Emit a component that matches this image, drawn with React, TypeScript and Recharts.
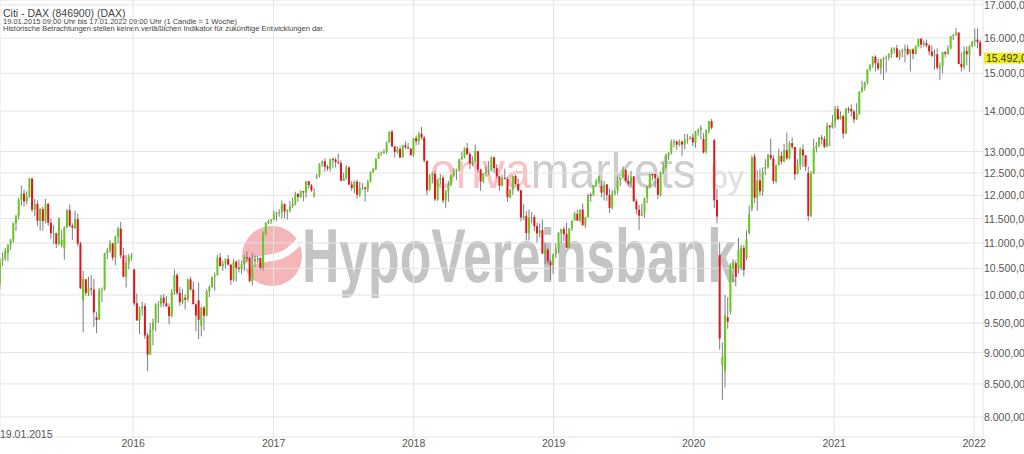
import React from "react";
import { Bar, CartesianGrid, ComposedChart, ReferenceLine, XAxis, YAxis } from "recharts";

// one candle per week: [open, high, low, close], first week starts 19.01.2015
type Ohlc = [number, number, number, number];

const y2015: Ohlc[] = [
  [10200, 10700, 10100, 10649], [10650, 10810, 10550, 10694], [10690, 10900, 10650, 10846], [10800, 10970, 10640, 10963],
  [10960, 11080, 10860, 11051], [11050, 11420, 11000, 11402], [11400, 11580, 11240, 11551], [11550, 11950, 11480, 11901],
  [11900, 12220, 11780, 12040], [12040, 12130, 11750, 11869], [11870, 12090, 11800, 11968], [11970, 12390, 11950, 12375],
  [12370, 12390, 11640, 11689], [11690, 11920, 11550, 11811], [11810, 11890, 11350, 11454], [11450, 11720, 11250, 11709],
  [11700, 11750, 11250, 11447], [11450, 11920, 11400, 11815], [11810, 11840, 11350, 11413], [11410, 11500, 11080, 11197],
  [11190, 11360, 10980, 11196], [11190, 11210, 10900, 10978], [10980, 11530, 10950, 11492], [10950, 11260, 10910, 11058],
  [10890, 11340, 10670, 11316], [11320, 11700, 11300, 11674], [11680, 11800, 11330, 11347], [11350, 11400, 11060, 11309],
  [11300, 11670, 11280, 11490], [11490, 11600, 10930, 10985], [10990, 11020, 10110, 10124], [9900, 10450, 9338, 10298],
  [10290, 10300, 9990, 10038], [10040, 10340, 9980, 10123], [10120, 10370, 9990, 10104], [10100, 10300, 9430, 9688],
  [9600, 9700, 9325, 9553], [9560, 10130, 9550, 10096], [10100, 10140, 9870, 10104], [10100, 10800, 10080, 10795],
  [10800, 10900, 10680, 10850], [10850, 11060, 10800, 10988], [10990, 11000, 10650, 10708], [10710, 11150, 10560, 11120],
  [11120, 11330, 10990, 11293], [11290, 11430, 10690, 10752], [10750, 10900, 10330, 10340], [10340, 10760, 10140, 10608],
  [10610, 10780, 10480, 10728], [10720, 10800, 10650, 10743],
];

const y2016: Ohlc[] = [
  [10480, 10490, 9810, 9849], [9850, 10030, 9540, 9545], [9540, 9790, 9310, 9764], [9760, 9880, 9630, 9798],
  [9800, 9850, 9230, 9286], [9290, 9330, 8699, 8967], [8970, 9500, 8960, 9388], [9390, 9580, 9120, 9513],
  [9510, 9850, 9360, 9824], [9820, 9890, 9500, 9831], [9830, 10000, 9780, 9950], [9950, 10020, 9790, 9851],
  [9850, 9980, 9790, 9794], [9790, 9850, 9480, 9622], [9620, 10110, 9600, 10051], [10050, 10480, 10000, 10373],
  [10370, 10410, 10000, 10039], [10040, 10150, 9800, 9870], [9870, 10110, 9830, 9952], [9950, 10010, 9740, 9917],
  [9920, 10310, 9880, 10287], [10290, 10340, 10080, 10103], [10100, 10250, 9830, 9834], [9830, 9850, 9360, 9631],
  [9900, 10230, 9226, 9558], [9450, 9790, 9270, 9776], [9770, 9800, 9370, 9630], [9630, 10110, 9620, 10067],
  [10070, 10180, 9960, 10147], [10150, 10340, 10130, 10337], [10340, 10420, 10080, 10367], [10370, 10760, 10360, 10713],
  [10710, 10800, 10530, 10544], [10540, 10650, 10450, 10588], [10590, 10690, 10500, 10684], [10680, 10760, 10550, 10573],
  [10570, 10580, 10190, 10276], [10280, 10680, 10250, 10627], [10630, 10650, 10250, 10511], [10510, 10670, 10420, 10490],
  [10490, 10650, 10400, 10580], [10580, 10760, 10450, 10711], [10710, 10830, 10630, 10696], [10700, 10720, 10230, 10259],
  [10260, 10800, 10170, 10668], [10670, 10750, 10530, 10664], [10660, 10740, 10600, 10700], [10700, 10720, 10480, 10513],
  [10510, 11230, 10460, 11203], [11200, 11430, 11150, 11404], [11400, 11480, 11380, 11450], [11450, 11490, 11390, 11481],
];

const y2017: Ohlc[] = [
  [11480, 11670, 11480, 11599], [11600, 11650, 11450, 11629], [11630, 11700, 11540, 11630], [11630, 11890, 11500, 11814],
  [11810, 11820, 11510, 11651], [11650, 11700, 11480, 11666], [11670, 11880, 11630, 11757], [11760, 11950, 11720, 11804],
  [11800, 12080, 11780, 12027], [12030, 12050, 11860, 11963], [11960, 12110, 11950, 12095], [12090, 12100, 11870, 12064],
  [12060, 12320, 11950, 12313], [12310, 12320, 12150, 12225], [12220, 12250, 12070, 12109], [12000, 12160, 11950, 12049],
  [12420, 12480, 12360, 12438], [12440, 12720, 12400, 12717], [12720, 12790, 12640, 12770], [12770, 12840, 12530, 12638],
  [12640, 12690, 12550, 12602], [12600, 12830, 12530, 12823], [12820, 12860, 12620, 12816], [12810, 12850, 12630, 12753],
  [12750, 12950, 12700, 12733], [12730, 12790, 12310, 12325], [12320, 12510, 12320, 12389], [12390, 12680, 12350, 12632],
  [12630, 12650, 12220, 12240], [12240, 12320, 12100, 12163], [12160, 12330, 12040, 12298], [12300, 12350, 11930, 12014],
  [12010, 12300, 11970, 12165], [12160, 12270, 12120, 12168], [12170, 12200, 11868, 12143], [12140, 12350, 12070, 12304],
  [12300, 12540, 12290, 12519], [12520, 12620, 12500, 12592], [12590, 12840, 12560, 12829], [12830, 12980, 12820, 12956],
  [12960, 13000, 12900, 12992], [12990, 13060, 12940, 12991], [12990, 13240, 12950, 13217], [13220, 13490, 13200, 13479],
  [13480, 13526, 13100, 13127], [13120, 13140, 12860, 12994], [12990, 13130, 12950, 13060], [13060, 13120, 12840, 12861],
  [12860, 13160, 12860, 13154], [13150, 13250, 13060, 13104], [13100, 13210, 13060, 13073], [13070, 13080, 12900, 12918],
];

const y2018: Ohlc[] = [
  [12920, 13320, 12870, 13320], [13320, 13390, 13150, 13245], [13250, 13480, 13160, 13434], [13430, 13597, 13290, 13340],
  [13340, 13370, 12740, 12785], [12780, 12790, 12000, 12107], [12110, 12470, 12110, 12452], [12450, 12520, 12260, 12483],
  [12480, 12550, 11870, 11914], [11900, 12370, 11880, 12346], [12350, 12480, 12240, 12390], [12390, 12450, 11830, 11886],
  [11890, 12120, 11730, 12097], [12090, 12310, 11860, 12241], [12240, 12450, 12200, 12442], [12440, 12610, 12410, 12540],
  [12540, 12600, 12340, 12580], [12580, 12830, 12540, 12820], [12820, 13000, 12800, 12874], [12870, 13100, 12840, 13078],
  [13080, 13204, 12920, 12938], [12940, 12990, 12590, 12724], [12720, 12890, 12660, 12767], [12770, 13170, 12740, 13011],
  [13010, 13010, 12500, 12580], [12580, 12600, 12100, 12306], [12310, 12500, 12270, 12496], [12500, 12660, 12420, 12541],
  [12540, 12780, 12450, 12562], [12560, 12890, 12540, 12860], [12860, 12880, 12500, 12616], [12610, 12700, 12380, 12424],
  [12420, 12440, 12100, 12211], [12210, 12460, 12200, 12394], [12390, 12600, 12350, 12364], [12360, 12400, 11860, 11960],
  [11960, 12140, 11930, 12124], [12120, 12440, 12010, 12431], [12430, 12460, 12220, 12247], [12250, 12370, 12080, 12112],
  [12110, 12120, 11440, 11524], [11520, 11810, 11470, 11554], [11550, 11660, 11050, 11201], [11200, 11690, 11050, 11519],
  [11520, 11640, 11400, 11529], [11530, 11580, 11240, 11341], [11340, 11420, 11010, 11193], [11190, 11400, 11110, 11257],
  [11260, 11480, 10780, 10788], [10790, 11000, 10580, 10866], [10860, 10900, 10580, 10634], [10630, 10690, 10279, 10559],
  [10560, 10790, 10390, 10768],
];

const y2019: Ohlc[] = [
  [10770, 10990, 10700, 10887], [10890, 11220, 10800, 11205], [11200, 11290, 11000, 11282], [11280, 11330, 11040, 11181],
  [11180, 11420, 10900, 10907], [10910, 11300, 10900, 11300], [11300, 11460, 11240, 11458], [11460, 11640, 11460, 11602],
  [11600, 11690, 11450, 11458], [11460, 11700, 11420, 11686], [11690, 11820, 11350, 11364], [11360, 11540, 11300, 11526],
  [11530, 12040, 11520, 12010], [12010, 12060, 11860, 11999], [12000, 12230, 11990, 12222], [12220, 12360, 12180, 12315],
  [12310, 12440, 12260, 12413], [12200, 12330, 11960, 12060], [12060, 12320, 11890, 12239], [12240, 12250, 11880, 12011],
  [12010, 12150, 11620, 11727], [11730, 12120, 11690, 12045], [12040, 12160, 11990, 12096], [12100, 12420, 12020, 12340],
  [12340, 12400, 12200, 12399], [12400, 12650, 12400, 12569], [12570, 12590, 12290, 12323], [12320, 12450, 12200, 12260],
  [12260, 12550, 12200, 12419], [12420, 12440, 11860, 11872], [11870, 11920, 11600, 11694], [11690, 11790, 11266, 11563],
  [11560, 11820, 11550, 11612], [11610, 11950, 11520, 11939], [11940, 12200, 11830, 12192], [12190, 12490, 12150, 12469],
  [12470, 12480, 12330, 12468], [12470, 12490, 12170, 12381], [12380, 12440, 11920, 12013], [12010, 12540, 11970, 12512],
  [12510, 12740, 12470, 12634], [12630, 12960, 12600, 12895], [12900, 12990, 12800, 12961], [12960, 13290, 12930, 13229],
  [13230, 13290, 13100, 13242], [13240, 13270, 13040, 13164], [13160, 13290, 13120, 13236], [13240, 13260, 12900, 13167],
  [13170, 13430, 13050, 13283], [13290, 13420, 13190, 13319], [13320, 13380, 13280, 13337], [13340, 13430, 13130, 13219],
];

const y2020: Ohlc[] = [
  [13210, 13500, 13090, 13483], [13480, 13560, 13380, 13526], [13530, 13640, 13290, 13577], [13300, 13440, 12950, 12982],
  [13000, 13540, 12950, 13514], [13510, 13750, 13430, 13745], [13740, 13795, 13540, 13579], [13270, 13310, 11725, 11890],
  [11900, 12150, 11400, 11542], [10760, 11010, 9050, 9232], [8800, 9170, 8255, 8929], [8700, 10000, 8440, 9633],
  [9600, 9960, 9400, 9526], [9700, 10600, 9650, 10565], [10500, 10680, 10230, 10626], [10600, 10650, 10160, 10336],
  [10500, 11100, 10400, 10862], [10500, 10960, 10460, 10904], [10900, 10960, 10340, 10465], [10700, 11250, 10650, 11074],
  [11200, 11780, 11170, 11587], [11700, 12910, 11650, 12848], [12880, 12950, 11830, 11949], [11950, 12560, 11660, 12331],
  [12330, 12600, 12000, 12089], [12090, 12630, 11990, 12528], [12600, 12820, 12450, 12633], [12630, 12950, 12600, 12920],
  [12920, 13310, 12800, 12838], [12840, 12910, 12250, 12313], [12310, 12700, 12270, 12675], [12680, 13070, 12680, 12901],
  [12900, 13000, 12700, 12765], [12760, 13180, 12750, 13033], [13030, 13460, 12800, 12843], [12840, 13240, 12820, 13203],
  [13200, 13340, 13050, 13116], [13110, 13110, 12340, 12470], [12470, 12820, 12470, 12689], [12690, 13100, 12570, 13052],
  [13050, 13170, 12640, 12909], [12910, 12910, 12550, 12646], [12500, 12650, 11450, 11556], [11560, 12550, 11530, 12480],
  [12480, 13300, 12480, 13077], [13080, 13230, 12980, 13137], [13140, 13350, 13100, 13336], [13330, 13400, 13170, 13299],
  [13300, 13380, 13080, 13114], [13110, 13700, 13110, 13631], [13630, 13650, 13130, 13587], [13590, 13900, 13560, 13719],
];

const y2021: Ohlc[] = [
  [13720, 14130, 13580, 14050], [14050, 14130, 13780, 13788], [13790, 13990, 13780, 13874], [13870, 13900, 13310, 13433],
  [13430, 14080, 13430, 14057], [14060, 14110, 13950, 14050], [14050, 14170, 13860, 13993], [13990, 14030, 13690, 13786],
  [13790, 14200, 13770, 13920], [13920, 14520, 13900, 14502], [14500, 14800, 14480, 14621], [14620, 14780, 14530, 14749],
  [14750, 15110, 14690, 15107], [15110, 15250, 15050, 15234], [15230, 15480, 15150, 15460], [15460, 15500, 15050, 15280],
  [15280, 15400, 15080, 15136], [15140, 15400, 14970, 15400], [15400, 15460, 14820, 15417], [15420, 15500, 15020, 15438],
  [15440, 15570, 15360, 15520], [15520, 15730, 15430, 15693], [15690, 15730, 15550, 15693], [15700, 15800, 15430, 15448],
  [15450, 15650, 15370, 15608], [15610, 15690, 15450, 15650], [15650, 15810, 15300, 15688], [15690, 15800, 15500, 15540],
  [15540, 15670, 15050, 15669], [15670, 15700, 15390, 15544], [15540, 15790, 15520, 15761], [15760, 15980, 15730, 15977],
  [15980, 15990, 15700, 15808], [15810, 15930, 15750, 15852], [15850, 15950, 15730, 15781], [15780, 15820, 15500, 15610],
  [15610, 15780, 15450, 15490], [15490, 15670, 15100, 15531], [15530, 15700, 15100, 15156], [15150, 15300, 14820, 15206],
  [15200, 15600, 15000, 15587], [15590, 15630, 15440, 15543], [15540, 15790, 15510, 15689], [15690, 16050, 15690, 16054],
  [16050, 16120, 15940, 16094], [16100, 16290, 16060, 16160], [16160, 16170, 15250, 15257], [15260, 15580, 15050, 15170],
  [15170, 15750, 15100, 15623], [15620, 15760, 15230, 15532], [15530, 15790, 15040, 15756], [15760, 15920, 15730, 15885],
];

const y2022: Ohlc[] = [
  [15890, 16280, 15760, 15948], [15950, 16285, 15700, 15883], [15880, 15950, 15470, 15492],
];

// x positions in weeks since 19.01.2015
const dateTicks = [0, 49.57, 101.86, 154, 206.14, 258.29, 310.57, 362.71];
const dateLabels = ["19.01.2015", "2016", "2017", "2018", "2019", "2020", "2021", "2022"];
const priceTicks = [8000, 8500, 9000, 9500, 10000, 10500, 11000, 11500, 12000, 12500, 13000, 14000, 15000, 16000, 17000];
const lastPrice = 15492;

const UP = "#66c91f";
const DOWN = "#e3141d";
const WICK = "#7d7d7d";
const FONT = "'Liberation Sans', Arial, sans-serif";

const candles = [...y2015, ...y2016, ...y2017, ...y2018, ...y2019, ...y2020, ...y2021, ...y2022].map(
  ([o, h, l, c], i) => ({ i, o, h, l, c, range: [l, h] })
);

const fmtDe = (v: number) => {
  const [a, b] = v.toFixed(2).split(".");
  return a.replace(/\B(?=(\d{3})+(?!\d))/g, ".") + "," + b;
};

function Candle(props: any) {
  const { x, y, width, height, payload } = props;
  if (!payload || height == null) return null;
  const { o, h, l, c } = payload;
  const cx = x + width / 2;
  const span = Math.log(h) - Math.log(l);
  // log axis: position inside the high-low range is linear in log(price)
  const yAt = (v: number) => (span > 0 ? y + (height * (Math.log(h) - Math.log(v))) / span : y);
  const top = yAt(Math.max(o, c));
  const bot = yAt(Math.min(o, c));
  return (
    <g>
      <line x1={cx} x2={cx} y1={y} y2={y + height} stroke={WICK} strokeWidth={1} />
      <rect x={cx - 1} y={top} width={2} height={Math.max(1, bot - top)} fill={c >= o ? UP : DOWN} />
    </g>
  );
}

function DateTick(props: any) {
  const { x, y, index } = props;
  const first = index === 0;
  return (
    <text
      x={first ? 0 : x}
      y={first ? y + 1 : y + 10}
      textAnchor={first ? "start" : "middle"}
      fontSize={10.5}
      fill="#555"
      fontFamily={FONT}
    >
      {dateLabels[index]}
    </text>
  );
}

function PriceTick(props: any) {
  const { x, y, payload } = props;
  return (
    <text x={x + 1} y={y + 4} fontSize={10.5} fill="#555" fontFamily={FONT}>
      {fmtDe(payload.value)}
    </text>
  );
}

function LastLabel(props: any) {
  const vb = props.viewBox;
  if (!vb) return null;
  const x0 = vb.x + vb.width + 1;
  return (
    <g>
      <rect x={x0} y={vb.y - 3} width={45} height={11} fill="#eeee1c" />
      <text x={x0 + 2} y={vb.y + 6} fontSize={10.5} fill="#333" fontFamily={FONT}>
        {fmtDe(lastPrice)}
      </text>
    </g>
  );
}

function Watermark() {
  return (
    <svg width={1024} height={454} style={{ position: "absolute", left: 0, top: 0 }}>
      <text x={3} y={17} fontSize={10.5} fill="#444" fontFamily={FONT}>
        Citi - DAX (846900) (DAX)
      </text>
      <text x={3} y={24} fontSize={7.5} fill="#444" fontFamily={FONT}>
        19.01.2015 09:00 Uhr bis 17.01.2022 09:00 Uhr (1 Candle = 1 Woche)
      </text>
      <text x={3} y={31} fontSize={7.5} fill="#444" fontFamily={FONT}>
        Historische Betrachtungen stellen keinen verläßlichen Indikator für zukünftige Entwicklungen dar.
      </text>
      <text x={430} y={188} fontSize={50} fontFamily={FONT} textLength={266} lengthAdjust="spacingAndGlyphs">
        <tspan fill="#f6c4c4">onva</tspan>
        <tspan fill="#cdcdcd">markets</tspan>
      </text>
      <text x={710} y={188} fontSize={32} fill="#e0e0e0" fontFamily={FONT}>
        by
      </text>
      <circle cx={272} cy={256} r={30} fill="#f4b6b6" />
      <path d="M246 268 C 262 250, 278 268, 300 240" stroke="#fff" strokeWidth={7} fill="none" />
      <text
        x={302}
        y={282}
        fontSize={76}
        fontWeight="bold"
        fill="#c4c4c4"
        fontFamily="'Liberation Sans Narrow', 'Liberation Sans', Arial, sans-serif"
        textLength={434}
        lengthAdjust="spacingAndGlyphs"
      >
        HypoVereinsbank
      </text>
    </svg>
  );
}

export default function App() {
  return (
    <div
      style={{
        position: "absolute",
        left: 0,
        top: 0,
        width: 1024,
        height: 454,
        background: "#fff",
        overflow: "hidden",
        fontFamily: FONT,
      }}
    >
      <Watermark />
      <div style={{ position: "absolute", left: 0, top: 0 }}>
        <ComposedChart width={1024} height={454} data={candles} margin={{ top: 0, right: 0, bottom: 0, left: 0 }}>
          <CartesianGrid stroke="#e4e4e4" />
          <XAxis
            type="number"
            dataKey="i"
            domain={[0, 366]}
            ticks={dateTicks}
            interval={0}
            allowDataOverflow
            height={17}
            tickLine={false}
            axisLine={false}
            tickSize={0}
            tickMargin={0}
            tick={<DateTick />}
          />
          <YAxis
            orientation="right"
            scale="log"
            domain={[7713, 17152]}
            allowDataOverflow
            ticks={priceTicks}
            interval={0}
            width={41}
            tickLine={false}
            axisLine={false}
            tickSize={0}
            tickMargin={0}
            tick={<PriceTick />}
          />
          <Bar dataKey="range" shape={<Candle />} barSize={3} isAnimationActive={false} />
          <ReferenceLine y={lastPrice} stroke="none" ifOverflow="visible" label={<LastLabel />} />
        </ComposedChart>
      </div>
    </div>
  );
}
